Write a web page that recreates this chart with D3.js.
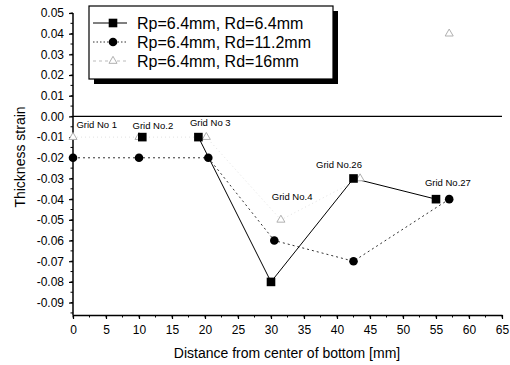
<!DOCTYPE html>
<html>
<head>
<meta charset="utf-8">
<script src="https://cdn.jsdelivr.net/npm/d3@7"></script>
<style>
  body { margin: 0; background: #fff; }
  svg { font-family: Arial, "Liberation Sans", sans-serif; }
</style>
</head>
<body>
<div id="chart"></div>
<script>
// Data
const seriesNames = ['Rp=6.4mm, Rd=6.4mm', 'Rp=6.4mm, Rd=11.2mm', 'Rp=6.4mm, Rd=16mm'];

const rd64X = [10.5, 19, 30, 42.5, 55];
const rd64Y = [-0.01, -0.01, -0.08, -0.03, -0.04];

const rd112X = [0, 10, 20.5, 30.5, 42.5, 57];
const rd112Y = [-0.02, -0.02, -0.02, -0.06, -0.07, -0.04];

const rd16X = [0, 10, 20.2, 31.5, 43.5, 57];
const rd16Y = [-0.01, -0.01, -0.01, -0.05, -0.03, 0.04];

const gridText = ['Grid No 1', 'Grid No.2', 'Grid No 3', 'Grid No.4', 'Grid No.26', 'Grid No.27'];
const gridX = [3.6, 12.1, 20.8, 33.2, 40.3, 56.8];
const gridY = [-0.0042, -0.0046, -0.0032, -0.039, -0.0235, -0.032];

const xTicks = d3.range(0, 66, 5);
const yTicks = d3.range(-9, 6).map(i => i / 100);

const W = 510, H = 365;
const svg = d3.select('#chart').append('svg')
    .attr('width', W).attr('height', H);

const x = d3.scaleLinear().domain([0, 65]).range([73, 502]);
const y = d3.scaleLinear().domain([-0.096, 0.05]).range([315, 13]);

// minor ticks
const gMinor = svg.append('g');
d3.range(0, 65.1, 2.5).forEach(v => {
    gMinor.append('line').attr('x1', x(v)).attr('x2', x(v))
        .attr('y1', 315).attr('y2', 317.5).attr('stroke', '#000');
});
d3.range(-19, 11).map(i => i * 0.005).forEach(v => {
    gMinor.append('line').attr('y1', y(v)).attr('y2', y(v))
        .attr('x1', 73).attr('x2', 70.5).attr('stroke', '#000');
});

// axes
const xAxis = svg.append('g').attr('transform', 'translate(0,315)')
    .call(d3.axisBottom(x).tickValues(xTicks).tickSize(4).tickSizeOuter(0).tickPadding(6)
        .tickFormat(d => d));
const yAxis = svg.append('g').attr('transform', 'translate(73,0)')
    .call(d3.axisLeft(y).tickValues(yTicks).tickSize(4).tickSizeOuter(0).tickPadding(5)
        .tickFormat(d => (Math.abs(d) < 1e-9 ? 0 : d).toFixed(2)));
[xAxis, yAxis].forEach(a => {
    a.select('.domain').attr('stroke-width', 1.5);
    a.selectAll('.tick line').attr('stroke-width', 1.2);
    a.selectAll('text').attr('font-size', 12).attr('fill', '#000')
        .attr('font-family', 'Arial, "Liberation Sans", sans-serif');
});
// extend y axis domain to the top tick
yAxis.select('.domain').attr('d', `M0,${y(0.05)}V315`);

// zero line
svg.append('line').attr('x1', x(0)).attr('x2', x(65))
    .attr('y1', y(0)).attr('y2', y(0)).attr('stroke', '#000').attr('stroke-width', 1.3);

// axis titles
svg.append('text').attr('x', 287).attr('y', 358).attr('text-anchor', 'middle')
    .attr('font-size', 14).text('Distance from center of bottom [mm]');
svg.append('text').attr('transform', 'translate(25,157) rotate(-90)')
    .attr('text-anchor', 'middle').attr('font-size', 14).text('Thickness strain');

const pts = (xs, ys) => xs.map((v, i) => [v, ys[i]]);
const line = d3.line().x(d => x(d[0])).y(d => y(d[1]));

const rd64 = pts(rd64X, rd64Y);
const rd112 = pts(rd112X, rd112Y);
const rd16 = pts(rd16X, rd16Y);

// lines (the scan only shows the solid line from Grid No 3 onward)
svg.append('path').attr('d', line(rd16.slice(0, 5))).attr('fill', 'none')
    .attr('stroke', '#e2e2e2').attr('stroke-width', 1).attr('stroke-dasharray', '1,3');
svg.append('path').attr('d', line(rd112)).attr('fill', 'none')
    .attr('stroke', '#333').attr('stroke-width', 1).attr('stroke-dasharray', '2,3');
svg.append('path').attr('d', line(rd64.slice(1))).attr('fill', 'none')
    .attr('stroke', '#000').attr('stroke-width', 1);

// markers
const tri = d3.symbol().type(d3.symbolTriangle).size(28);
svg.append('g').selectAll('path').data(rd16).join('path')
    .attr('transform', d => `translate(${x(d[0])},${y(d[1])})`)
    .attr('d', tri).attr('fill', '#fff').attr('stroke', '#b0b0b0').attr('stroke-width', 1);
svg.append('g').selectAll('circle').data(rd112).join('circle')
    .attr('cx', d => x(d[0])).attr('cy', d => y(d[1])).attr('r', 4.3).attr('fill', '#000');
svg.append('g').selectAll('rect').data(rd64).join('rect')
    .attr('x', d => x(d[0]) - 4.3).attr('y', d => y(d[1]) - 4.3)
    .attr('width', 8.6).attr('height', 8.6).attr('fill', '#000');

// grid annotations
svg.append('g').selectAll('text').data(gridText).join('text')
    .attr('x', (d, i) => x(gridX[i])).attr('y', (d, i) => y(gridY[i]))
    .attr('dy', '0.35em').attr('text-anchor', 'middle').attr('font-size', 9.5)
    .text(d => d);

// legend with drop shadow
const lg = svg.append('g');
lg.append('rect').attr('x', 94).attr('y', 11).attr('width', 244).attr('height', 73).attr('fill', '#000');
lg.append('rect').attr('x', 89).attr('y', 6).attr('width', 244).attr('height', 73)
    .attr('fill', '#fff').attr('stroke', '#000').attr('stroke-width', 1.2);
const rowY = [23, 42, 61];
const sampleStyle = [
    { stroke: '#000', dash: null },
    { stroke: '#333', dash: '1.5,2' },
    { stroke: '#bbb', dash: '3,3' }
];
seriesNames.forEach((name, i) => {
    const yy = rowY[i];
    lg.append('line').attr('x1', 93).attr('x2', 127).attr('y1', yy).attr('y2', yy)
        .attr('stroke', sampleStyle[i].stroke).attr('stroke-width', 1)
        .attr('stroke-dasharray', sampleStyle[i].dash);
    if (i === 0) {
        lg.append('rect').attr('x', 108.7).attr('y', yy - 4.3).attr('width', 8.6).attr('height', 8.6).attr('fill', '#000');
    } else if (i === 1) {
        lg.append('circle').attr('cx', 113).attr('cy', yy).attr('r', 4.3).attr('fill', '#000');
    } else {
        lg.append('path').attr('transform', `translate(113,${yy})`).attr('d', tri)
            .attr('fill', '#fff').attr('stroke', '#b0b0b0');
    }
    lg.append('text').attr('x', 137).attr('y', yy).attr('dy', '0.35em')
        .attr('font-size', 16).text(name);
});
</script>
</body>
</html>
